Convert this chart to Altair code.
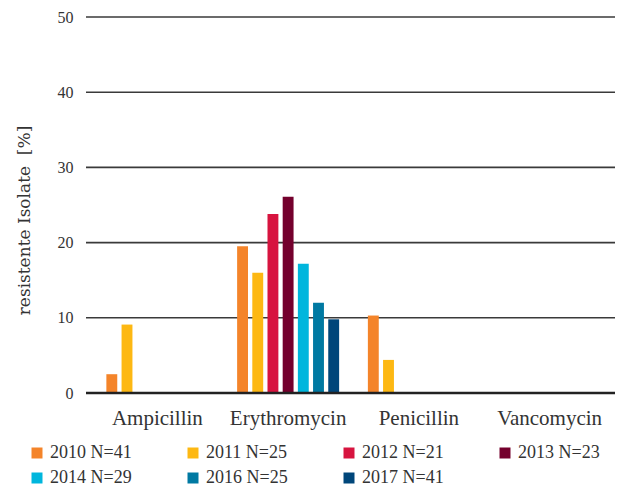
import altair as alt
import pandas as pd

antibiotics = ["Ampicillin", "Erythromycin", "Penicillin", "Vancomycin"]
years = ["2010 N=41", "2011 N=25", "2012 N=21", "2013 N=23", "2014 N=29", "2016 N=25", "2017 N=41"]
colors = ["#F4842A", "#FDB813", "#D7143F", "#74002D", "#00B6DD", "#0079A2", "#00467A"]

v2010 = [2.5, 19.5, 10.3, 0]
v2011 = [9.1, 16.0, 4.4, 0]
v2012 = [0, 23.8, 0, 0]
v2013 = [0, 26.1, 0, 0]
v2014 = [0, 17.2, 0, 0]
v2016 = [0, 12.0, 0, 0]
v2017 = [0, 9.8, 0, 0]
series = [v2010, v2011, v2012, v2013, v2014, v2016, v2017]

tick_values = [0, 10, 20, 30, 40, 50]
grid_values = [10, 20, 30, 40, 50]

rows = []
for y, vals in zip(years, series):
    for a, v in zip(antibiotics, vals):
        rows.append({"Antibiotikum": a, "Jahr": y, "Wert": v})
df = pd.DataFrame(rows)

SERIF = "Liberation Serif"
WIDE = "DejaVu Serif"
TXT = "#333333"
W, H = 523, 376

yscale = alt.Scale(domain=[0, 50])

grid = alt.Chart(pd.DataFrame({"g": grid_values})).mark_rule(
    color="#3a3a3a", strokeWidth=1.6
).encode(
    y=alt.Y("g:Q", scale=yscale),
    x=alt.value(-6),
    x2=alt.value(W),
)

bars = alt.Chart(df).mark_bar().encode(
    x=alt.X("Antibiotikum:N", sort=antibiotics, title=None,
            scale=alt.Scale(paddingInner=0, paddingOuter=0, range=[0, W]),
            axis=alt.Axis(labelAngle=0, domain=False, ticks=False, labelPadding=14,
                          labelFontSize=21, labelFont=SERIF, labelColor=TXT)),
    xOffset=alt.XOffset("Jahr:N", sort=years,
                        scale=alt.Scale(paddingInner=0.283, paddingOuter=0.946)),
    y=alt.Y("Wert:Q", scale=yscale, title="resistente Isolate\u00a0\u00a0[%]",
            axis=alt.Axis(values=tick_values, grid=False, domain=False,
                          ticks=False, tickSize=0, labelPadding=19, labelFontSize=16,
                          labelFont=SERIF, labelColor=TXT, titleFont=WIDE,
                          titleFontSize=17, titleFontWeight="normal", titleColor=TXT,
                          titleX=-68, titleY=203, titleBaseline="middle",
                          titleAlign="center", titleAngle=270)),
    color=alt.Color("Jahr:N", sort=years,
                    scale=alt.Scale(domain=years, range=colors),
                    legend=alt.Legend(title=None, orient="none", legendX=-64, legendY=427,
                                      direction="horizontal", columns=4, symbolType="square",
                                      symbolSize=121, symbolStrokeWidth=0,
                                      labelFont=SERIF, labelFontSize=18, labelColor=TXT,
                                      columnPadding=52, rowPadding=7, labelOffset=4)),
)

zero = alt.Chart(pd.DataFrame({"g": [0]})).mark_rule(
    color="#222222", strokeWidth=2.4
).encode(
    y=alt.Y("g:Q", scale=yscale),
    x=alt.value(-6),
    x2=alt.value(W),
)

chart = alt.layer(grid, bars, zero).properties(
    width=W, height=H,
    autosize=alt.AutoSizeParams(type="none"),
    padding={"left": 84, "top": 9, "right": 0, "bottom": 93},
).configure_view(stroke=None)

chart.save("out.html", embed_options={"renderer": "svg", "actions": False})
